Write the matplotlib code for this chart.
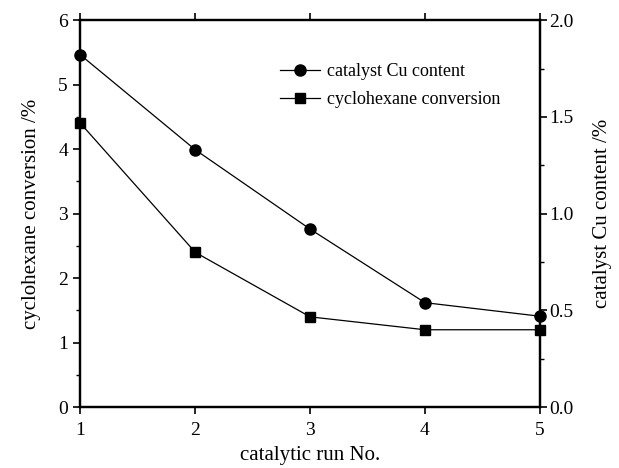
import matplotlib.pyplot as plt
from matplotlib.ticker import MultipleLocator
from matplotlib.lines import Line2D

plt.rcParams['font.family'] = ['Liberation Serif', 'DejaVu Serif']

runs = [1, 2, 3, 4, 5]
conversion = [4.4, 2.4, 1.4, 1.2, 1.2]
cu_content = [1.82, 1.33, 0.92, 0.54, 0.47]

fig, ax1 = plt.subplots(figsize=(6.19, 4.68), dpi=100)
fig.subplots_adjust(left=0.13, right=0.872, top=0.957, bottom=0.13)

ax1.plot(runs, conversion, color='black', lw=0.9, marker='s', ms=7, zorder=3, clip_on=False)
ax1.set_xlim(1, 5)
ax1.set_ylim(0, 6)
ax1.set_xticks(runs)
ax1.yaxis.set_major_locator(MultipleLocator(1))
ax1.yaxis.set_minor_locator(MultipleLocator(0.5))
ax1.set_xlabel('catalytic run No.', fontsize=15, labelpad=5)
ax1.set_ylabel('cyclohexane conversion /%', fontsize=15, labelpad=12)

ax2 = ax1.twinx()
ax2.plot(runs, cu_content, color='black', lw=0.9, marker='o', ms=8, zorder=3, clip_on=False)
ax2.set_ylim(0, 2)
ax2.yaxis.set_major_locator(MultipleLocator(0.5))
ax2.yaxis.set_minor_locator(MultipleLocator(0.25))
ax2.yaxis.set_major_formatter(plt.FormatStrFormatter('%.1f'))
ax2.set_ylabel('catalyst Cu content /%', fontsize=15, labelpad=14)

for ax in (ax1, ax2):
    for s in ax.spines.values():
        s.set_linewidth(1.6)
    ax.tick_params(which='major', direction='out', length=5, width=1.2, labelsize=14, pad=4)
    ax.tick_params(which='minor', direction='out', length=3, width=1.0)

ax1.tick_params(axis='x', top=True, pad=6)
ax1.tick_params(axis='y', right=False)
ax1.tick_params(axis='x', which='minor', bottom=False)
ax2.tick_params(axis='y', pad=2)

handles = [
    Line2D([], [], color='black', lw=0.9, marker='o', ms=8),
    Line2D([], [], color='black', lw=0.9, marker='s', ms=7),
]
ax2.legend(handles, ['catalyst Cu content', 'cyclohexane conversion'],
           loc='upper left', bbox_to_anchor=(0.4, 0.93), frameon=False,
           fontsize=13, handlelength=2.2, handletextpad=0.4, labelspacing=0.6)

plt.savefig('out.png')
